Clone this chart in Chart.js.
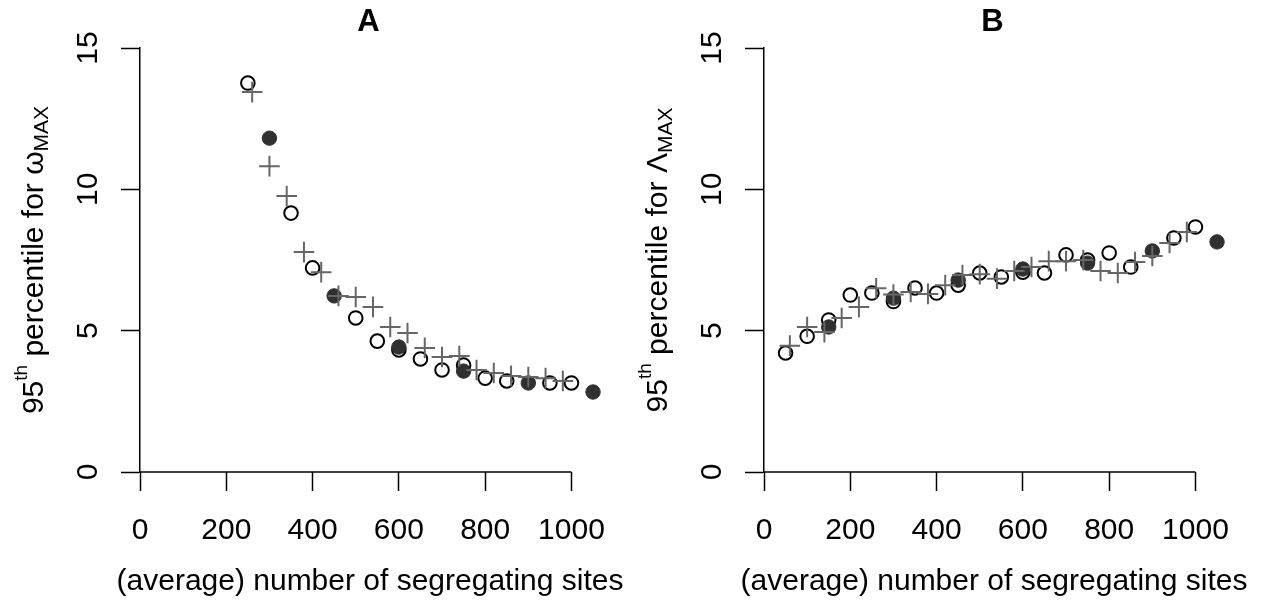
<!DOCTYPE html>
<html>
<head>
<meta charset="utf-8">
<script src="https://cdn.jsdelivr.net/npm/chart.js@4.4.1/dist/chart.umd.min.js"></script>
<style>
  body { margin: 0; background: #fff; }
  .panel { position: absolute; top: 0; width: 632px; height: 601px; }
</style>
</head>
<body>
<div class="panel" style="left:0"><canvas id="chartA" width="632" height="601"></canvas></div>
<div class="panel" style="left:624px"><canvas id="chartB" width="632" height="601"></canvas></div>
<script>
// axis ticks
const xTicks = [0, 200, 400, 600, 800, 1000];
const yTicks = [0, 5, 10, 15];

// panel A : omega_MAX
const openAX = [250, 350, 400, 500, 550, 600, 650, 700, 750, 800, 850, 950, 1000];
const openAY = [13.76, 9.16, 7.22, 5.45, 4.63, 4.32, 4.0, 3.61, 3.78, 3.32, 3.22, 3.15, 3.15];
const filledAX = [300, 450, 600, 750, 900, 1050];
const filledAY = [11.81, 6.23, 4.42, 3.57, 3.15, 2.83];
const plusAX = [260, 300, 340, 380, 420, 460, 500, 540, 580, 620, 660, 700, 740, 780, 820, 860, 900, 940, 980];
const plusAY = [13.44, 10.82, 9.76, 7.78, 7.07, 6.23, 6.19, 5.84, 5.13, 4.92, 4.39, 4.07, 4.1, 3.61, 3.5, 3.4, 3.36, 3.32, 3.22];

// panel B : Lambda_MAX
const openBX = [50, 100, 150, 200, 250, 300, 350, 400, 450, 500, 550, 600, 650, 700, 750, 800, 850, 950, 1000];
const openBY = [4.21, 4.8, 5.38, 6.26, 6.33, 6.03, 6.51, 6.33, 6.61, 7.04, 6.9, 7.07, 7.04, 7.68, 7.5, 7.75, 7.25, 8.28, 8.67];
const filledBX = [150, 300, 450, 600, 750, 900, 1050];
const filledBY = [5.13, 6.15, 6.79, 7.18, 7.39, 7.82, 8.14];
const plusBX = [60, 100, 140, 180, 220, 260, 300, 340, 380, 420, 460, 500, 540, 580, 620, 660, 700, 740, 780, 820, 860, 900, 940, 980];
const plusBY = [4.47, 5.13, 4.95, 5.45, 5.84, 6.5, 6.28, 6.37, 6.3, 6.61, 6.97, 7.0, 6.84, 7.11, 7.25, 7.46, 7.46, 7.5, 7.11, 7.04, 7.43, 7.64, 8.1, 8.49];

const FONT = '"Liberation Sans", Arial, Helvetica, sans-serif';

function toXY(xs, ys) {
    return xs.map((x, i) => ({ x: x, y: ys[i] }));
}

// R-style axes text: x axis line only from first to last tick, rotated y tick labels,
// plotmath-like y title, bold panel letter
const rText = {
    id: 'rText',
    afterDraw(chart, args, opts) {
        const ctx = chart.ctx;
        const area = chart.chartArea;
        const xs = chart.scales.x, ys = chart.scales.y;
        ctx.save();

        ctx.strokeStyle = '#000';
        ctx.lineWidth = 1.5;
        ctx.beginPath();
        ctx.moveTo(xs.getPixelForValue(xTicks[0]), area.bottom);
        ctx.lineTo(xs.getPixelForValue(xTicks[xTicks.length - 1]), area.bottom);
        ctx.stroke();

        ctx.fillStyle = '#000';
        ctx.textBaseline = 'alphabetic';
        ctx.textAlign = 'center';
        ctx.font = '30px ' + FONT;

        xTicks.forEach(v => ctx.fillText(String(v), xs.getPixelForValue(v), area.bottom + 67));
        yTicks.forEach(v => {
            ctx.save();
            ctx.translate(area.left - 43, ys.getPixelForValue(v));
            ctx.rotate(-Math.PI / 2);
            ctx.fillText(String(v), 0, 0);
            ctx.restore();
        });

        ctx.fillText('(average) number of segregating sites', area.left + 230, area.bottom + 118);

        ctx.font = 'bold 31px ' + FONT;
        ctx.fillText(opts.title, area.left + 228.5, 31);

        // y title: 95^th percentile for <greek>_MAX
        const parts = [
            { t: '95', size: 30, dy: 0 },
            { t: 'th', size: 19, dy: -16 },
            { t: ' percentile for ', size: 30, dy: 0 },
            { t: opts.greek, size: 30, dy: 0 },
            { t: 'MAX', size: 21, dy: 5 }
        ];
        let total = 0;
        parts.forEach(p => {
            ctx.font = p.size + 'px ' + FONT;
            p.w = ctx.measureText(p.t).width;
            total += p.w;
        });
        ctx.translate(area.left - 97, (area.top + area.bottom) / 2);
        ctx.rotate(-Math.PI / 2);
        ctx.textAlign = 'left';
        let pos = -total / 2;
        parts.forEach(p => {
            ctx.font = p.size + 'px ' + FONT;
            ctx.fillText(p.t, pos, p.dy);
            pos += p.w;
        });
        ctx.restore();
    }
};

function makePanel(id, title, greek, plusX, plusY, filledX, filledY, openX, openY) {
    const tickGrid = {
        drawOnChartArea: false,
        drawTicks: true,
        tickLength: 19,
        tickColor: '#000',
        tickWidth: 1.5
    };

    new Chart(document.getElementById(id), {
        type: 'scatter',
        data: {
            datasets: [
                {
                    label: 'plus',
                    data: toXY(plusX, plusY),
                    pointStyle: 'cross',
                    pointRadius: 10.3,
                    borderColor: '#666666',
                    borderWidth: 2,
                    clip: false
                },
                {
                    label: 'filled',
                    data: toXY(filledX, filledY),
                    pointStyle: 'circle',
                    pointRadius: 7.2,
                    backgroundColor: '#303030',
                    borderColor: '#303030',
                    borderWidth: 1,
                    clip: false
                },
                {
                    label: 'open',
                    data: toXY(openX, openY),
                    pointStyle: 'circle',
                    pointRadius: 6.8,
                    backgroundColor: 'rgba(255,255,255,0)',
                    borderColor: '#000000',
                    borderWidth: 2,
                    clip: false
                }
            ]
        },
        options: {
            responsive: false,
            animation: false,
            events: [],
            layout: { padding: { left: 121, right: 17.4, top: 48, bottom: 110 } },
            scales: {
                x: {
                    type: 'linear',
                    min: 0,
                    max: 1100,
                    ticks: { display: false, stepSize: 200, includeBounds: false },
                    grid: tickGrid,
                    border: { display: false }
                },
                y: {
                    type: 'linear',
                    min: 0,
                    max: 15,
                    ticks: { display: false, stepSize: 5 },
                    grid: tickGrid,
                    border: { display: true, color: '#000', width: 1.5 }
                }
            },
            plugins: {
                legend: { display: false },
                tooltip: { enabled: false },
                rText: { title: title, greek: greek }
            }
        },
        plugins: [rText]
    });
}

makePanel('chartA', 'A', 'ω', plusAX, plusAY, filledAX, filledAY, openAX, openAY);
makePanel('chartB', 'B', 'Λ', plusBX, plusBY, filledBX, filledBY, openBX, openBY);
</script>
</body>
</html>
